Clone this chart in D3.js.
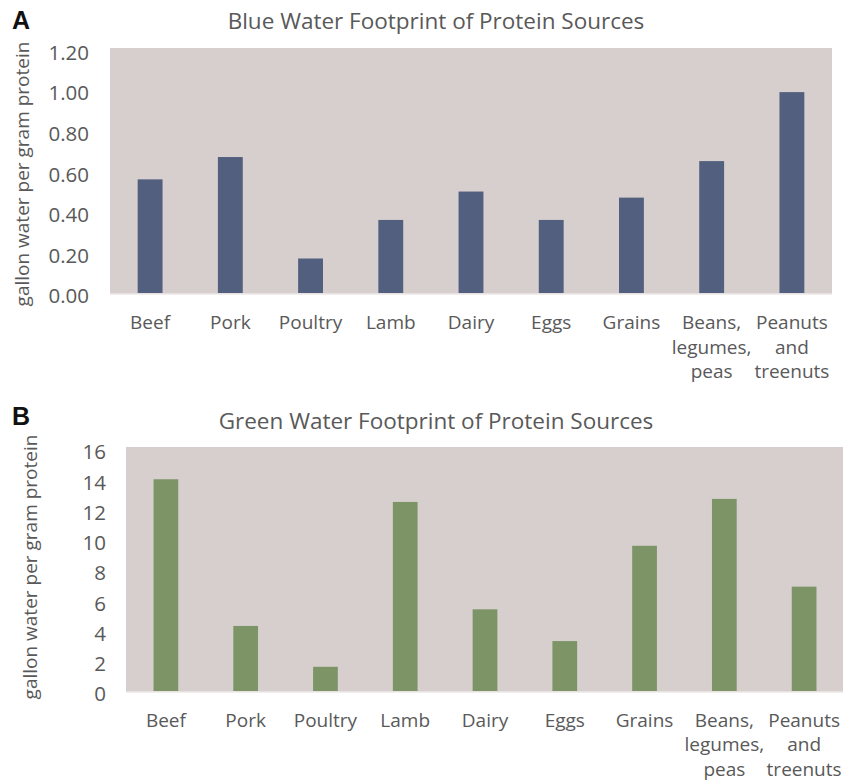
<!DOCTYPE html>
<html>
<head>
<meta charset="utf-8">
<script src="https://cdn.jsdelivr.net/npm/d3@7/dist/d3.min.js"></script>
<style>
  html, body { margin: 0; padding: 0; background: #ffffff; }
  svg { display: block; }
  text { font-family: "Open Sans", Lato, sans-serif; }
</style>
</head>
<body>
<svg id="chart" width="843" height="784"></svg>
<script>
// ---- Data ----
const categoryLines = [
  ["Beef"], ["Pork"], ["Poultry"], ["Lamb"], ["Dairy"], ["Eggs"], ["Grains"],
  ["Beans,", "legumes,", "peas"], ["Peanuts", "and", "treenuts"]
];
const categories = categoryLines.map(d => d.join(" "));
const blueValues = [0.56, 0.67, 0.17, 0.36, 0.50, 0.36, 0.47, 0.65, 0.99];
const greenValues = [14.0, 4.3, 1.6, 12.5, 5.4, 3.3, 9.6, 12.7, 6.9];
const blueTicks = [0, 0.2, 0.4, 0.6, 0.8, 1.0, 1.2];
const greenTicks = [0, 2, 4, 6, 8, 10, 12, 14, 16];
const blueTitle = "Blue Water Footprint of Protein Sources";
const greenTitle = "Green Water Footprint of Protein Sources";
const yAxisTitle = "gallon water per gram protein";

const svg = d3.select("#chart");
const textColor = "#595959";

function drawPanel(p) {
  const g = svg.append("g");
  const x = d3.scaleBand().domain(categories).range([p.left, p.right]).paddingInner(0.69).paddingOuter(0.345);
  const y = d3.scaleLinear().domain([0, p.max]).range([p.bottom, p.top]);

  // panel letter
  g.append("text").attr("x", 12).attr("y", p.letterY)
    .style("font-family", "'Liberation Sans', Arial, sans-serif")
    .attr("font-weight", "bold").attr("font-size", 25).attr("fill", "#111")
    .text(p.letter);

  // title
  g.append("text").attr("x", 436).attr("y", p.titleY)
    .attr("text-anchor", "middle").attr("font-size", 22.5).attr("fill", textColor)
    .text(p.title);

  // plot area background
  g.append("rect").attr("x", p.left).attr("y", p.bgTop)
    .attr("width", p.right - p.left).attr("height", p.bottom - p.bgTop + 1)
    .attr("fill", "#d6cfcd");

  // bars
  g.selectAll("rect.bar").data(p.values).join("rect").attr("class", "bar")
    .attr("x", (d, i) => x(categories[i]))
    .attr("width", x.bandwidth())
    .attr("y", d => y(d))
    .attr("height", d => y(0) - y(d))
    .attr("fill", p.color);

  // baseline axis line
  g.append("line").attr("x1", p.left).attr("x2", p.right)
    .attr("y1", y(0) + 1).attr("y2", y(0) + 1)
    .attr("stroke", "#ece8e7").attr("stroke-width", 1.5);

  // y axis (labels only)
  const yAxis = d3.axisLeft(y).tickValues(p.ticks).tickFormat(p.fmt).tickSize(0).tickPadding(0);
  const ya = g.append("g").attr("transform", `translate(${p.tickRight},0)`).call(yAxis);
  ya.select(".domain").remove();
  ya.selectAll("text").attr("font-size", 20.5).attr("fill", textColor)
    .style("font-family", "'Open Sans', Lato, sans-serif").attr("dy", "0.36em")
    .attr("transform", "translate(0,2.5)");

  // x axis labels (multi-line)
  const xa = g.append("g");
  categoryLines.forEach((lines, i) => {
    const cx = x(categories[i]) + x.bandwidth() / 2;
    const t = xa.append("text").attr("text-anchor", "middle")
      .attr("font-size", 19).attr("fill", textColor);
    lines.forEach((ln, j) => {
      t.append("tspan").attr("x", cx).attr("y", p.labelY + j * 24.5).text(ln);
    });
  });

  // y axis title
  g.append("text")
    .attr("transform", `translate(${p.axisTitleX},${p.axisTitleY}) rotate(-90)`)
    .attr("text-anchor", "middle").attr("font-size", 19).attr("fill", textColor)
    .text(yAxisTitle);
}

drawPanel({
  letter: "A", letterY: 29, title: blueTitle, titleY: 29,
  left: 110, right: 832, top: 49.5, bottom: 293, bgTop: 48, max: 1.2,
  values: blueValues, ticks: blueTicks, fmt: d3.format(".2f"), color: "#525f7e",
  tickRight: 89, labelY: 329, axisTitleX: 29, axisTitleY: 174
});

drawPanel({
  letter: "B", letterY: 425, title: greenTitle, titleY: 429,
  left: 126, right: 844, top: 449, bottom: 691, bgTop: 447, max: 16,
  values: greenValues, ticks: greenTicks, fmt: d3.format("d"), color: "#7d9467",
  tickRight: 106, labelY: 726.5, axisTitleX: 37, axisTitleY: 567
});
</script>
</body>
</html>
